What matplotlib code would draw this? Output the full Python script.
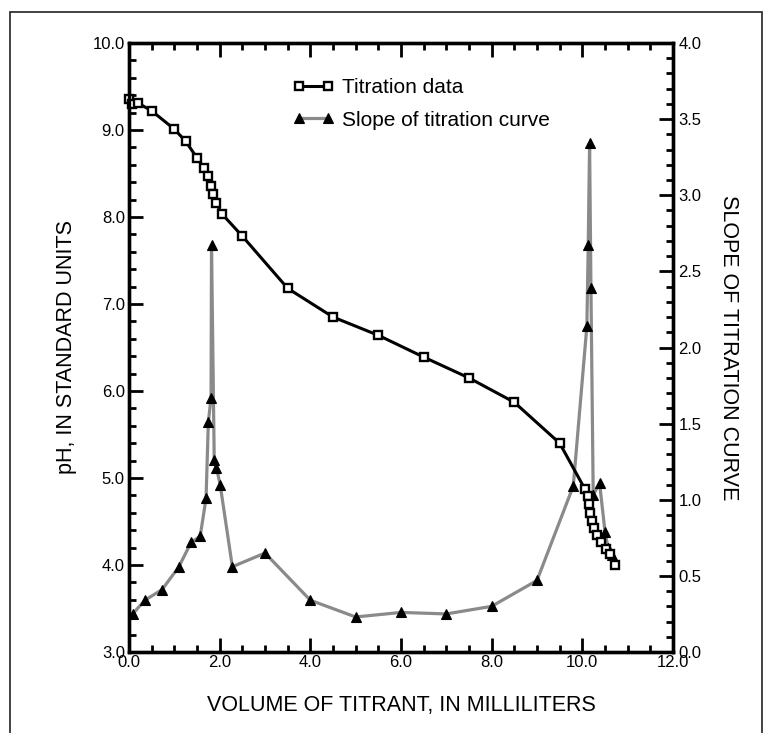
import matplotlib
matplotlib.use("Agg")
import matplotlib.pyplot as plt
from matplotlib.patches import Rectangle
from matplotlib.ticker import MultipleLocator, FormatStrFormatter

plt.rcParams['font.family'] = ['Liberation Sans', 'DejaVu Sans']

# Titration data: volume of titrant (mL) vs pH
titrant_volume = [0.0, 0.06, 0.2, 0.5, 1.0, 1.25, 1.5, 1.65, 1.74, 1.80, 1.85,
                  1.92, 2.06, 2.5, 3.5, 4.5, 5.5, 6.5, 7.5, 8.5, 9.5,
                  10.06, 10.12, 10.15, 10.18, 10.21, 10.25, 10.32, 10.41,
                  10.52, 10.6, 10.72]
ph_values = [9.36, 9.30, 9.31, 9.22, 9.01, 8.87, 8.68, 8.56, 8.47, 8.36, 8.27,
             8.16, 8.03, 7.78, 7.18, 6.85, 6.64, 6.39, 6.15, 5.87, 5.40,
             4.87, 4.79, 4.70, 4.60, 4.51, 4.43, 4.35, 4.26,
             4.18, 4.13, 4.00]

# Slope of the titration curve (right axis)
slope_volume = [0.08, 0.35, 0.73, 1.10, 1.37, 1.57, 1.70, 1.75, 1.81, 1.82,
                1.88, 1.93, 2.01, 2.28, 3.0, 4.0, 5.0, 6.0, 7.0, 8.0, 9.0,
                9.80, 10.10, 10.13, 10.16, 10.19, 10.24, 10.38, 10.50, 10.57,
                10.65]
slope_values = [0.25, 0.34, 0.41, 0.56, 0.72, 0.76, 1.01, 1.51, 1.67, 2.67,
                1.26, 1.21, 1.10, 0.56, 0.65, 0.34, 0.23, 0.26, 0.25, 0.30, 0.47,
                1.09, 2.14, 2.67, 3.34, 2.39, 1.03, 1.11, 0.79, 0.68,
                0.64]

W, H = 765, 733
fig = plt.figure(figsize=(W / 100, H / 100), dpi=100)

# outer frame around the figure
fig.patches.append(Rectangle((10 / W, -0.02), (762 - 10) / W, 1.02 - 12 / H,
                             transform=fig.transFigure, fill=False,
                             edgecolor='#222222', linewidth=1.2))

left, right, top, bottom = 129, 673, 43, 652
ax = fig.add_axes([left / W, 1 - bottom / H, (right - left) / W, (bottom - top) / H])
ax2 = ax.twinx()

# slope series on the secondary axis
ax2.plot(slope_volume, slope_values, color='#8a8a8a', linewidth=2.3,
         marker='^', markersize=7.5, markerfacecolor='black',
         markeredgecolor='black', markeredgewidth=0.8,
         label='Slope of titration curve', clip_on=False)

# titration data on the primary axis, drawn above the slope series
ax.plot(titrant_volume, ph_values, color='black', linewidth=2.2,
        marker='s', markersize=5.5, markerfacecolor='white',
        markeredgecolor='black', markeredgewidth=1.7,
        label='Titration data', clip_on=False)
ax.set_zorder(ax2.get_zorder() + 1)
ax.patch.set_visible(False)

ax.set_xlim(0, 12)
ax.set_ylim(3, 10)
ax2.set_ylim(0, 4)

ax.xaxis.set_major_locator(MultipleLocator(2.0))
ax.xaxis.set_minor_locator(MultipleLocator(0.5))
ax.yaxis.set_major_locator(MultipleLocator(1.0))
ax.yaxis.set_minor_locator(MultipleLocator(0.2))
ax2.yaxis.set_major_locator(MultipleLocator(0.5))
ax2.yaxis.set_minor_locator(MultipleLocator(0.1))
for a in (ax.xaxis, ax.yaxis, ax2.yaxis):
    a.set_major_formatter(FormatStrFormatter('%.1f'))

tick_font = 12
ax.tick_params(axis='x', which='both', direction='in', top=True, bottom=True,
               labelsize=tick_font, pad=2, colors='black')
ax.tick_params(axis='y', which='both', direction='in', left=True, right=False,
               labelsize=tick_font, pad=3)
ax2.tick_params(axis='y', which='both', direction='in', right=True,
                labelsize=tick_font, pad=4)
for a in (ax, ax2):
    a.tick_params(which='major', length=10, width=2)
    a.tick_params(which='minor', length=5, width=2)
    for s in a.spines.values():
        s.set_linewidth(2.4)

label_font = 15.5
ax.set_xlabel('VOLUME OF TITRANT, IN MILLILITERS', fontsize=label_font, labelpad=18)
ax.set_ylabel('pH, IN STANDARD UNITS', fontsize=label_font, labelpad=11)
ax2.set_ylabel('SLOPE OF TITRATION CURVE', fontsize=label_font, rotation=-90,
               labelpad=27)

h1, l1 = ax.get_legend_handles_labels()
h2, l2 = ax2.get_legend_handles_labels()
ax.legend(h1 + h2, l1 + l2, loc='upper left', bbox_to_anchor=(0.285, 0.956),
          frameon=False, fontsize=15, numpoints=2, handlelength=2.0,
          handletextpad=0.4, labelspacing=0.65, borderaxespad=0)

fig.savefig('out.png', dpi=100)
